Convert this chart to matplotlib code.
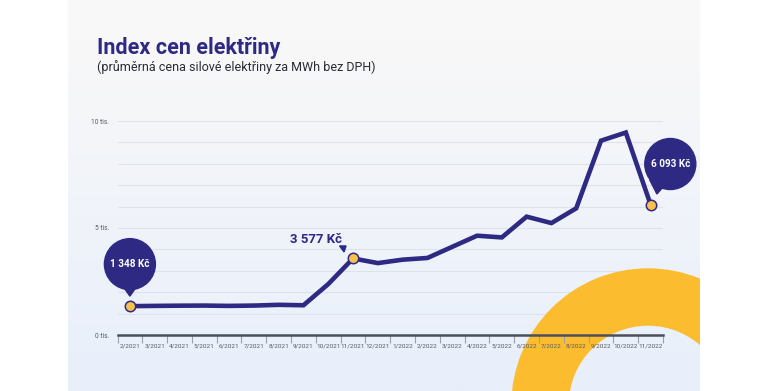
import matplotlib
matplotlib.use("Agg")
import matplotlib.pyplot as plt
import matplotlib.patches as mpatches
import matplotlib.transforms as mtrans
import numpy as np

plt.rcParams['font.family'] = ['Roboto', 'DejaVu Sans']

# data
months = ["2/2021", "3/2021", "4/2021", "5/2021", "6/2021", "7/2021", "8/2021",
          "9/2021", "10/2021", "11/2021", "12/2021", "1/2022", "2/2022", "3/2022",
          "4/2022", "5/2022", "6/2022", "7/2022", "8/2022", "9/2022", "10/2022",
          "11/2022"]
prices = [1348, 1360, 1370, 1375, 1360, 1375, 1410, 1390, 2380, 3577, 3360,
          3520, 3600, 4120, 4640, 4560, 5530, 5230, 5920, 9080, 9460, 6093]
ytick_vals = [0, 5000, 10000]
ytick_labels = ["0 tis.", "5 tis.", "10 tis."]
highlight = [0, 9, 21]
callout_labels = ["1 348 Kč", "3 577 Kč", "6 093 Kč"]

W, H = 770, 391
navy = "#2e2a84"
yellow = "#fbbd2f"

fig = plt.figure(figsize=(W / 100, H / 100), dpi=100)

# background card (pixel coordinates)
bg = fig.add_axes([0, 0, 1, 1])
bg.set_xlim(0, W)
bg.set_ylim(H, 0)
bg.axis("off")
top_c = np.array([0xfa, 0xf9, 0xf8]) / 255
bot_c = np.array([0xe8, 0xef, 0xfb]) / 255
t = np.linspace(0, 1, 200)[:, None, None]
grad = top_c * (1 - t) + bot_c * t
bg.imshow(grad, extent=(68, 700, H, 0), aspect="auto", zorder=0)
card = mpatches.Rectangle((68, 0), 632, H, transform=bg.transData, fill=False, lw=0)
bg.add_patch(card)

fig.text(97 / W, 1 - 54 / H, "Index cen elektřiny", fontsize=15.5, fontweight="bold",
         color=navy, va="baseline")
fig.text(97 / W, 1 - 71 / H, "(průměrná cena silové elektřiny za MWh bez DPH)",
         fontsize=9.0, color="#2b2b33", va="baseline")

# chart
ax = fig.add_axes([117.5 / W, (H - 335) / H, 545.5 / W, 214 / H])
ax.patch.set_alpha(0)
x = np.arange(len(months))
ax.set_xlim(-0.5, len(months) - 0.5)
ax.set_ylim(0, 10000)

for gy in range(1000, 10001, 1000):
    ax.axhline(gy, color="#dde2eb", lw=0.8, zorder=1)

# decorative ring, above grid but under axis and line
ring = mpatches.Wedge((648, 405), 136, 0, 360, width=56, color=yellow, zorder=1.2,
                      transform=bg.transData)
ax.add_patch(ring)
ring.set_clip_path(card)

ax.plot(x, prices, color=navy, lw=3.3, solid_joinstyle="miter", zorder=3, clip_on=False)
ax.plot(x[highlight], [prices[i] for i in highlight], "o", ms=7.5,
        mfc="#f8c04e", mec=navy, mew=1.1, zorder=4, clip_on=False)

for s in ["top", "right", "left"]:
    ax.spines[s].set_visible(False)
ax.spines["bottom"].set_color("#4b4f5c")
ax.spines["bottom"].set_linewidth(1.8)
ax.spines["bottom"].set_zorder(5)

ax.set_xticks(x)
ax.set_xticklabels(months, fontsize=4.6, color="#555a66")
ax.set_xticks(np.arange(-0.5, len(months)), minor=True)
ax.tick_params(axis="x", which="major", length=0, pad=6)
ax.tick_params(axis="x", which="minor", length=5.5, width=0.8, color="#9aa0ac")
ax.set_yticks(ytick_vals)
ax.set_yticklabels(ytick_labels, fontsize=4.8, color="#555a66")
ax.tick_params(axis="y", length=0, pad=6)


def at_point(i):
    return fig.dpi_scale_trans + mtrans.ScaledTranslation(x[i], prices[i], ax.transData)


def bubble(i, cx, cy, tail, label):
    tr = at_point(i)
    ax.add_patch(mpatches.Polygon(tail, closed=True, color=navy, transform=tr,
                                  zorder=6, clip_on=False))
    ax.add_patch(mpatches.Circle((cx, cy), 0.255, color=navy, transform=tr,
                                 zorder=6, clip_on=False))
    ax.text(cx, cy, label, transform=tr, color="white", fontsize=7.2,
            fontweight="bold", ha="center", va="center", zorder=7)


bubble(highlight[0], 0.0, 0.42, [(-0.07, 0.2), (0.07, 0.2), (0.0, 0.1)], callout_labels[0])
bubble(highlight[2], 0.197, 0.406,
       [(-0.01, 0.25), (0.12, 0.17), (0.063, 0.106)], callout_labels[2])

tr = at_point(highlight[1])
ax.text(-0.37, 0.185, callout_labels[1], transform=tr, color=navy, fontsize=9.5,
        fontweight="bold", ha="center", va="center", zorder=7)
ax.add_patch(mpatches.Polygon([(-0.135, 0.125), (-0.07, 0.125), (-0.09, 0.065)],
                              closed=True, color=navy, transform=tr, zorder=6,
                              clip_on=False))

fig.savefig("out.png", dpi=100)
